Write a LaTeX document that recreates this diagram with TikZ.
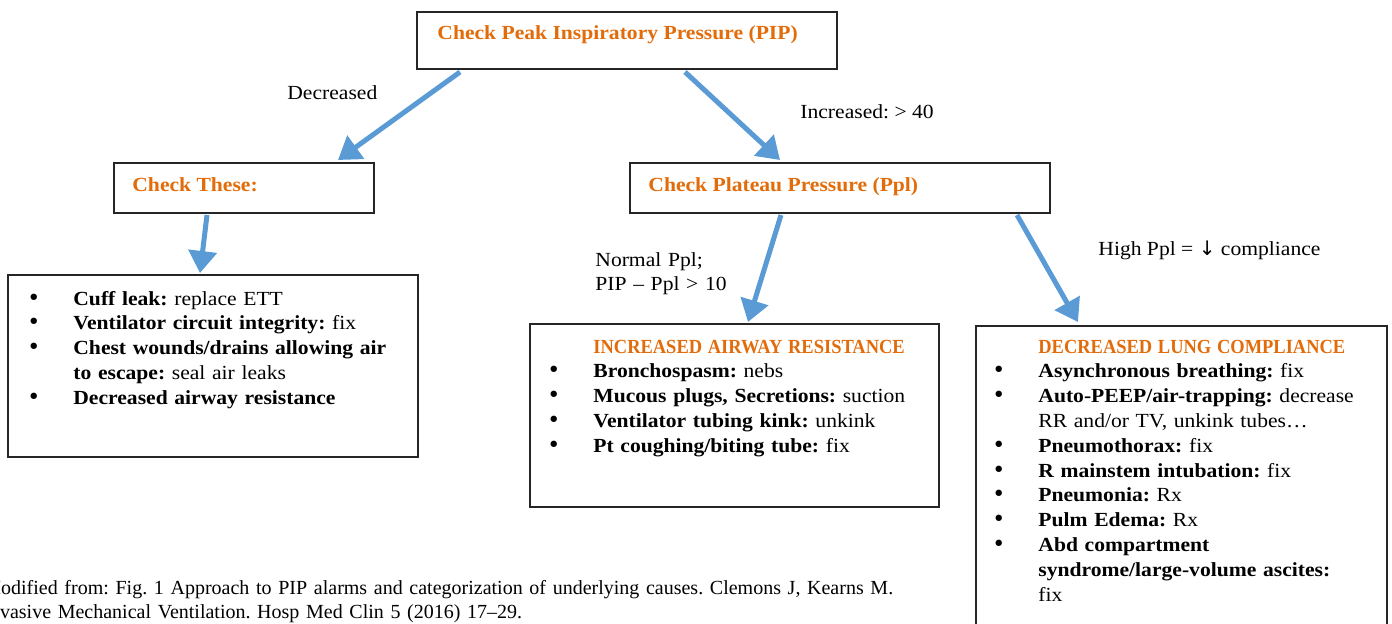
\documentclass[tikz,border=0pt]{standalone}
\usepackage{graphicx}
\usepackage{fontspec}
\setmainfont{Liberation Serif}[FakeStretch=1.08]
\newfontfamily\notefont{Liberation Serif}
\newfontfamily\symfont{DejaVu Sans}
\usetikzlibrary{arrows.meta,calc}

\definecolor{orng}{HTML}{E36C0A}
\definecolor{flowblue}{HTML}{5B9BD5}

\newcommand\bodysize{\fontsize{10}{12.4}\selectfont\frenchspacing}
\newcommand\bul[2]{\hangindent=22pt\hangafter=1\noindent\makebox[22pt][l]{\hspace*{-1pt}{\symfont\fontsize{11}{11}\selectfont •}}\textbf{#1} #2\par}
\newcommand\capt[1]{\noindent\hspace*{22pt}\textcolor{orng}{\scalebox{0.855}[1]{\bfseries #1}}\par}

\begin{document}
\begin{tikzpicture}
[
    x=0.5pt, y=-0.5pt,
    box/.style={draw=black!85, line width=0.8pt, anchor=north west, inner sep=0pt, outer sep=0pt},
    head/.style={anchor=base west, inner sep=0pt, text=orng, font=\bodysize\bfseries},
    lbl/.style={anchor=base west, inner sep=0pt, align=left, font=\bodysize},
    list/.style={anchor=base west, inner sep=0pt, text width=300pt, font=\bodysize,
        execute at begin node=\raggedright},
    flow/.style={draw=flowblue, line width=2.5pt, -{Triangle[length=11pt,width=14pt]}},
]
\useasboundingbox (0,0) rectangle (1392,623);
\clip (0,0) rectangle (1392,623);

% top level
\node [box, minimum width=210pt, minimum height=28.5pt] (pip) at (417,12) {};
\node [head] (piptxt) at (437,39) {Check Peak Inspiratory Pressure (PIP)};

% second level
\node [box, minimum width=130pt, minimum height=25pt] (these) at (114,163) {};
\node [head] (thesetxt) at (132,191) {Check These:};
\node [box, minimum width=210pt, minimum height=25pt] (ppl) at (630,163) {};
\node [head] (ppltxt) at (648,191) {Check Plateau Pressure (Ppl)};

% lists
\node [box, minimum width=205pt, minimum height=91pt] (leaks) at (8,275) {};
\node [list] (leakstxt) at (29,305)
{\bul{Cuff leak:}{replace ETT}
 \bul{Ventilator circuit integrity:}{fix}
 \bul{Chest wounds/drains allowing air\newline to escape:}{seal air leaks}
 \bul{Decreased airway resistance}{}};

\node [box, minimum width=204.5pt, minimum height=91.5pt] (resist) at (530,324) {};
\node [list] (resisttxt) at (549,353)
{\capt{INCREASED AIRWAY RESISTANCE}
 \bul{Bronchospasm:}{nebs}
 \bul{Mucous plugs, Secretions:}{suction}
 \bul{Ventilator tubing kink:}{unkink}
 \bul{Pt coughing/biting tube:}{fix}};

\node [box, minimum width=205.5pt, minimum height=160pt] (compl) at (976,326) {};
\node [list] (compltxt) at (994,353)
{\capt{DECREASED LUNG COMPLIANCE}
 \bul{Asynchronous breathing:}{fix}
 \bul{Auto-PEEP/air-trapping:}{decrease\newline RR and/or TV, unkink tubes\dots}
 \bul{Pneumothorax:}{fix}
 \bul{R mainstem intubation:}{fix}
 \bul{Pneumonia:}{Rx}
 \bul{Pulm Edema:}{Rx}
 \bul{Abd compartment\newline syndrome/large-volume ascites:\newline}{fix}};

% branch labels
\node [lbl] (dec) at (287,99) {Decreased};
\node [lbl] (inc) at (800,118) {Increased: > 40};
\node [lbl, text width=90pt] (norm) at (595,266) {Normal Ppl;\\PIP – Ppl > 10};
\node [lbl] (high) at (1098,255) {High Ppl = {\symfont ↓} compliance};

% source
\node [lbl, text width=500pt, font=\notefont\fontsize{10}{12}\selectfont\frenchspacing] (src) at (-17,594)
{Modified from: Fig. 1 Approach to PIP alarms and categorization of underlying causes. Clemons J, Kearns M.\\
Invasive Mechanical Ventilation. Hosp Med Clin 5 (2016) 17–29.};

% arrows
\draw [flow] ($(pip.south west)+(43,3)$) -- ($(these.north east)+(-36,-3)$);
\draw [flow] ($(pip.south west)+(268,3)$) -- ($(ppl.north west)+(150,-3)$);
\draw [flow] ($(these.south west)+(93,2)$) -- ($(leaks.north west)+(192,-2)$);
\draw [flow] ($(ppl.south west)+(151,2)$) -- ($(resist.north west)+(218,-2)$);
\draw [flow] ($(ppl.south east)+(-33,2)$) -- ($(compl.north west)+(102,-4)$);
\end{tikzpicture}
\end{document}
